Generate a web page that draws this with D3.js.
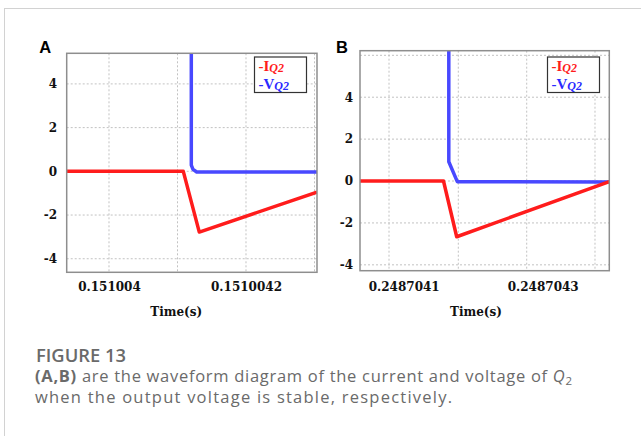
<!DOCTYPE html>
<html>
<head>
<meta charset="utf-8">
<script src="https://cdn.jsdelivr.net/npm/d3@7"></script>
<style>
body { margin: 0; background: #fff; }
svg { display: block; }
.grid line { stroke: #c2c2c2; stroke-width: 1; stroke-dasharray: 2,2; }
.axis text { font-family: "DejaVu Serif", serif; font-weight: bold; font-size: 12px; fill: #111; }
.caption { font-family: "Open Sans", sans-serif; fill: #6a6a6a; }
</style>
</head>
<body>
<svg id="fig" width="641" height="436"></svg>
<script>
// values (time in s, current in A, voltage in V)
var timeIA = [0.15100393825, 0.15100410847, 0.15100413182, 0.15100430365];
var currIA = [0, 0, -2.78, -0.95];
var timeVA = [0.15100412015, 0.15100412015, 0.15100412263, 0.15100412803, 0.15100430365];
var voltVA = [8, 0.28, 0.09, -0.03, -0.03];

var timeIB = [0.24870403712, 0.24870415727, 0.24870417626, 0.24870439583];
var currIB = [0, 0, -2.66, -0.03];
var timeVB = [0.24870416489, 0.24870416489, 0.24870417712, 0.24870439583];
var voltVB = [8, 0.92, -0.03, -0.05];

var xTicksA = [0.151004, 0.1510042];
var xGridA = [0.151004, 0.1510041, 0.1510042, 0.1510043];
var xTicksB = [0.2487041, 0.2487043];
var xGridB = [0.24870407885, 0.24870417856, 0.2487042770, 0.24870437525];
var yTicks = [-4, -2, 0, 2, 4];
var yGridA = [-4, -2, 0, 2, 4];
var yGridB = [-4, -2, 0, 2, 4, 6];
var legendNames = ["I", "V"];

var red = "#ff1c1c", blue = "#4848ff";
var svg = d3.select("#fig");

// light frame round the figure
svg.append("rect")
    .attr("x", 4.5).attr("y", 8.5)
    .attr("width", 700).attr("height", 500)
    .attr("fill", "none")
    .attr("stroke", "#d2d2d2");

function drawPanel(p) {
    var x = d3.scaleLinear().domain(p.xDomain).range([p.left, p.right]);
    var y = d3.scaleLinear().domain(p.yDomain).range([p.bottom, p.top]);
    var g = svg.append("g");

    g.append("clipPath").attr("id", "clip" + p.id)
        .append("rect")
        .attr("x", p.left).attr("y", p.top)
        .attr("width", p.right - p.left).attr("height", p.bottom - p.top);

    // dotted grid
    var grid = g.append("g").attr("class", "grid");
    grid.selectAll("line.v").data(p.xGrid).join("line")
        .attr("class", "v")
        .attr("x1", d => x(d)).attr("x2", d => x(d))
        .attr("y1", p.top).attr("y2", p.bottom);
    grid.selectAll("line.h").data(p.yGrid).join("line")
        .attr("class", "h")
        .attr("x1", p.left).attr("x2", p.right)
        .attr("y1", d => y(d)).attr("y2", d => y(d));

    // waveforms
    var line = d3.line().x(d => x(d[0])).y(d => y(d[1]));
    var plot = g.append("g").attr("clip-path", "url(#clip" + p.id + ")");
    plot.append("path")
        .datum(d3.zip(p.timeV, p.volt))
        .attr("d", line)
        .attr("fill", "none")
        .attr("stroke", blue)
        .attr("stroke-width", 3.5)
        .attr("stroke-linejoin", "round");
    plot.append("path")
        .datum(d3.zip(p.timeI, p.curr))
        .attr("d", line)
        .attr("fill", "none")
        .attr("stroke", red)
        .attr("stroke-width", 3.5)
        .attr("stroke-linejoin", "round");

    // plot border
    g.append("rect")
        .attr("x", p.left).attr("y", p.top)
        .attr("width", p.right - p.left).attr("height", p.bottom - p.top)
        .attr("fill", "none")
        .attr("stroke", "#8e8e8e")
        .attr("stroke-width", 1.5);

    // axes
    g.append("g")
        .attr("class", "axis")
        .attr("transform", "translate(0," + p.bottom + ")")
        .call(d3.axisBottom(x).tickValues(p.xTicks).tickSize(0).tickFormat(d => String(d)))
        .call(a => a.select(".domain").remove())
        .call(a => a.selectAll("text").attr("y", 291.5 - p.bottom).attr("dy", 0));

    g.append("g")
        .attr("class", "axis")
        .attr("transform", "translate(" + p.left + ",0)")
        .call(d3.axisLeft(y).tickValues(yTicks).tickSize(0).tickPadding(p.yPad).tickFormat(d => String(d)))
        .call(a => a.select(".domain").remove());

    g.append("text")
        .attr("x", (p.left + p.right) / 2 + p.titleShift).attr("y", 316)
        .attr("text-anchor", "middle")
        .style("font-family", "DejaVu Serif, serif")
        .style("font-weight", "bold")
        .style("font-size", "12px")
        .attr("fill", "#111")
        .text("Time(s)");

    // panel letter
    g.append("text")
        .attr("x", p.letterX).attr("y", 52.7)
        .style("font-family", "Liberation Sans, Arial, sans-serif")
        .style("font-weight", "bold")
        .style("font-size", "16.5px")
        .attr("fill", "#000")
        .text(p.id);

    // legend
    var lg = g.append("g").attr("transform", "translate(" + p.legendX + ",57)");
    lg.append("rect")
        .attr("width", 52).attr("height", 35.5)
        .attr("fill", "#fff")
        .attr("stroke", "#333")
        .attr("stroke-width", 1.2);
    var items = lg.selectAll("text").data(legendNames).join("text")
        .attr("x", 4)
        .attr("y", (d, i) => 13.5 + i * 18.5)
        .style("font-family", "Liberation Serif, Times New Roman, serif")
        .style("font-weight", "bold")
        .attr("fill", (d, i) => i === 0 ? red : "#2a2aff");
    items.append("tspan").style("font-size", "15px").text(d => "-" + d);
    items.append("tspan").attr("dy", 1).style("font-size", "12px").style("font-style", "italic").text("Q2");
}

drawPanel({
    id: "A", left: 66.7, right: 317, top: 53.3, bottom: 272.3,
    xDomain: [0.15100393825, 0.15100430365], yDomain: [-4.62, 5.4],
    xTicks: xTicksA, xGrid: xGridA, yGrid: yGridA,
    timeI: timeIA, curr: currIA, timeV: timeVA, volt: voltVA,
    yPad: 9.5, titleShift: -15.6, letterX: 39.3, legendX: 254.5
});
drawPanel({
    id: "B", left: 360, right: 609.3, top: 50.7, bottom: 270.7,
    xDomain: [0.24870403712, 0.24870439583], yDomain: [-4.28, 6.22],
    xTicks: xTicksB, xGrid: xGridB, yGrid: yGridB,
    timeI: timeIB, curr: currIB, timeV: timeVB, volt: voltVB,
    yPad: 7, titleShift: -8.7, letterX: 336, legendX: 547.5
});

// caption
svg.append("text")
    .attr("class", "caption")
    .attr("x", 36).attr("y", 361.5)
    .attr("textLength", 90).attr("lengthAdjust", "spacingAndGlyphs")
    .style("font-size", "17.5px")
    .style("font-weight", "600")
    .text("FIGURE 13");

var cap1 = svg.append("text").attr("class", "caption")
    .attr("x", 35).attr("y", 381.5)
    .attr("textLength", 537).attr("lengthAdjust", "spacing")
    .style("font-size", "16.5px");
cap1.append("tspan").style("font-weight", "bold").text("(A,B)");
cap1.append("tspan").text(" are the waveform diagram of the current and voltage of ");
cap1.append("tspan").style("font-style", "italic").text("Q");
cap1.append("tspan").attr("dy", 3).style("font-size", "11.5px").text("2");

svg.append("text").attr("class", "caption")
    .attr("x", 35).attr("y", 403)
    .attr("textLength", 417).attr("lengthAdjust", "spacing")
    .style("font-size", "16.5px")
    .text("when the output voltage is stable, respectively.");
</script>
</body>
</html>
